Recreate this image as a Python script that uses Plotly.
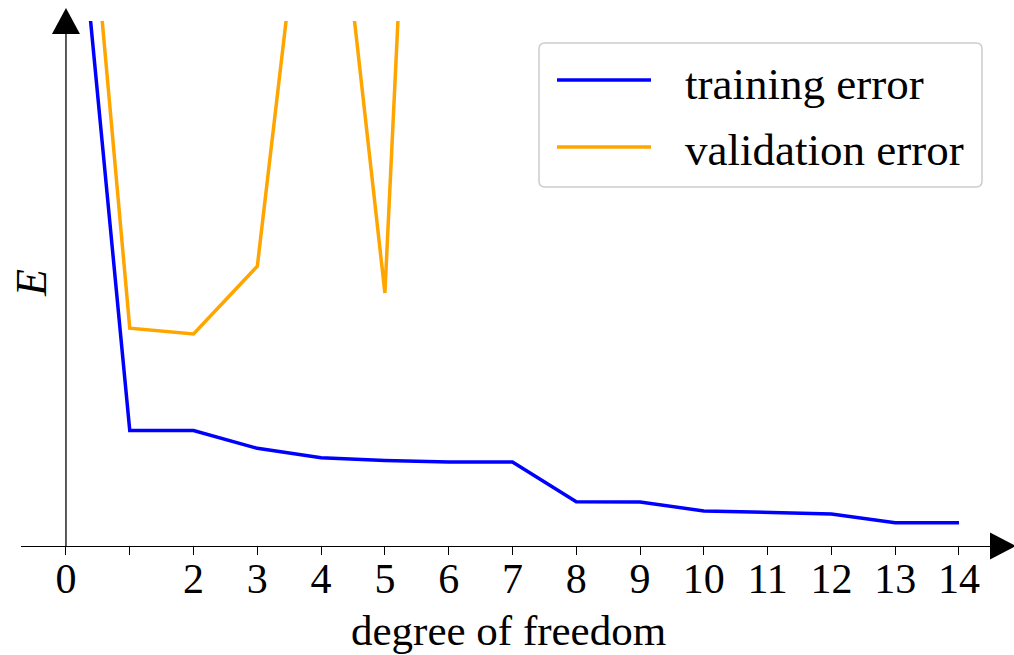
import plotly.graph_objects as go

# ---------------- data ----------------
degrees_train = [0, 1, 2, 3, 4, 5, 6, 7, 8, 9, 10, 11, 12, 13, 14]
training_error = [1.49, 0.220, 0.220, 0.186, 0.168, 0.163, 0.160, 0.160,
                  0.0845, 0.0839, 0.0668, 0.0636, 0.061, 0.0445, 0.0445]
degrees_val = [0, 1, 2, 3, 4, 5, 6]
validation_error = [1.77, 0.415, 0.404, 0.533, 1.57, 0.482, 3.02]
tick_vals = list(range(0, 15))
tick_text = ["0", "", "2", "3", "4", "5", "6", "7", "8", "9", "10", "11", "12", "13", "14"]

W, H = 1014, 655
L, R, T, B = 21, 11, 21, 109
PW, PH = W - L - R, H - T - B
FONT = "Liberation Serif"


def px(x):
    return (x - L) / PW


def py(y):
    return (H - B - y) / PH


fig = go.Figure()
fig.add_trace(go.Scatter(x=degrees_train, y=training_error, mode="lines",
                         line=dict(color="#0000ff", width=3.5), name="training error",
                         showlegend=False))
fig.add_trace(go.Scatter(x=degrees_val, y=validation_error, mode="lines",
                         line=dict(color="#ffa500", width=3.5), name="validation error",
                         showlegend=False))

shapes = [
    dict(type="line", xref="x", yref="paper", x0=0, x1=0, y0=0, y1=1,
         line=dict(color="black", width=1.3), layer="above"),
    dict(type="path", xref="x", yref="paper", xsizemode="pixel", ysizemode="pixel",
         xanchor=0, yanchor=1, path="M-14,-13 L14,-13 L0,13 Z",
         fillcolor="black", line=dict(width=0)),
    dict(type="path", xref="paper", yref="paper", xsizemode="pixel", ysizemode="pixel",
         xanchor=1, yanchor=0, path="M-13,-13.5 L-13,13.5 L13,0 Z",
         fillcolor="black", line=dict(width=0)),
]

bx0, bx1, by0, by1, rr = 539, 982, 43, 187, 6
rx, ry = rr / PW, rr / PH
X0, X1, Y0, Y1 = px(bx0), px(bx1), py(by1), py(by0)
path = (f"M{X0+rx},{Y0} L{X1-rx},{Y0} Q{X1},{Y0} {X1},{Y0+ry} L{X1},{Y1-ry} "
        f"Q{X1},{Y1} {X1-rx},{Y1} L{X0+rx},{Y1} Q{X0},{Y1} {X0},{Y1-ry} "
        f"L{X0},{Y0+ry} Q{X0},{Y0} {X0+rx},{Y0} Z")
shapes.append(dict(type="path", xref="paper", yref="paper", path=path,
                   fillcolor="rgba(255,255,255,0.8)", line=dict(color="#cccccc", width=1.5)))
shapes.append(dict(type="line", xref="paper", yref="paper", x0=px(557), x1=px(651),
                   y0=py(80), y1=py(80), line=dict(color="#0000ff", width=3.5)))
shapes.append(dict(type="line", xref="paper", yref="paper", x0=px(557), x1=px(651),
                   y0=py(147), y1=py(147), line=dict(color="#ffa500", width=3.5)))

annotations = [
    dict(text="training error", xref="paper", yref="paper", x=px(683), y=py(84),
         xanchor="left", yanchor="middle", showarrow=False,
         font=dict(family=FONT, size=45, color="black")),
    dict(text="validation error", xref="paper", yref="paper", x=px(683), y=py(150),
         xanchor="left", yanchor="middle", showarrow=False,
         font=dict(family=FONT, size=45, color="black")),
    dict(text="<i>E</i>", xref="paper", yref="paper", x=px(31), y=py(283),
         xanchor="center", yanchor="middle", showarrow=False, textangle=-90,
         font=dict(family=FONT, size=44, color="black")),
    dict(text="degree of freedom", xref="paper", yref="paper", x=px(508), y=py(630),
         xanchor="center", yanchor="middle", showarrow=False,
         font=dict(family=FONT, size=43, color="black")),
]

fig.update_layout(
    width=W, height=H,
    margin=dict(l=L, r=R, t=T, b=B, autoexpand=False),
    paper_bgcolor="white", plot_bgcolor="white",
    showlegend=False,
    shapes=shapes, annotations=annotations,
    xaxis=dict(range=[-0.705, 14.69], tickvals=tick_vals, ticktext=tick_text,
               ticks="outside", ticklen=8, tickwidth=1.3, tickcolor="black",
               showline=True, linecolor="black", linewidth=1.3,
               showgrid=False, zeroline=False, automargin=False,
               ticklabelstandoff=-13,
               tickfont=dict(family=FONT, size=42, color="black")),
    yaxis=dict(range=[0, 1], showticklabels=False, showgrid=False, zeroline=False,
               showline=False, ticks="", automargin=False),
)

fig.write_html("out.html")
